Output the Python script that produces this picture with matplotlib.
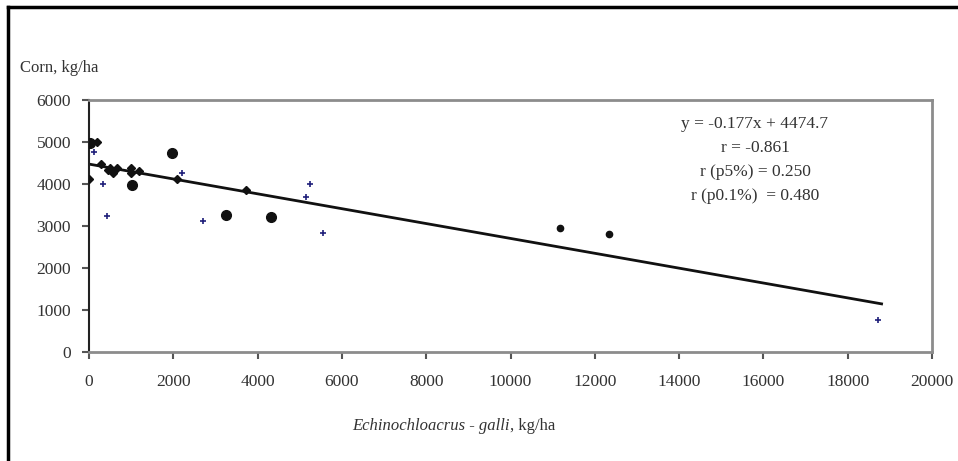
import numpy as np
import matplotlib.pyplot as plt
from matplotlib.lines import Line2D

# weed biomass (x) vs corn yield (y)
big_x = [30, 1010, 1970, 3250, 4310]
big_y = [4970, 3976, 4746, 3254, 3207]
mid_x = [11170, 12340]
mid_y = [2945, 2810]
dia_x = [200, 285, 450, 500, 560, 670, 1000, 1000, 1190, 10, 2080, 3717]
dia_y = [5000, 4485, 4330, 4374, 4270, 4390, 4380, 4270, 4300, 4110, 4110, 3857]
plus_x = [126, 325, 427, 2198, 2711, 5147, 5250, 5550, 18723]
plus_y = [4760, 4010, 3230, 4262, 3127, 3698, 4000, 2826, 762]

slope = -0.177
intercept = 4474.7
eq_lines = ["y = -0.177x + 4474.7", "r = -0.861", "r (p5%) = 0.250", "r (p0.1%)  = 0.480"]

plt.rcParams['font.family'] = ['Liberation Serif', 'DejaVu Serif']
txt = '#333333'

fig = plt.figure(figsize=(9.58, 4.61), dpi=100)
ax = fig.add_axes([0.0929, 0.2364, 0.88, 0.5466])

ax.plot(big_x, big_y, 'o', color='#111111', ms=7, zorder=3)
ax.plot(mid_x, mid_y, 'o', color='#111111', ms=4.5, zorder=3)
ax.plot(dia_x, dia_y, 'D', color='#111111', ms=4, zorder=3)
ax.plot(plus_x, plus_y, '+', color='#1f1f7a', ms=4, mew=1.2, zorder=3)

all_x = big_x + mid_x + dia_x + plus_x
xl = np.array([0, max(all_x) + 80])
ax.plot(xl, slope * xl + intercept, color='#111111', lw=2, zorder=2)

ax.set_xlim(0, 20000)
ax.set_ylim(0, 6000)
ax.set_xticks(np.arange(0, 20001, 2000))
ax.set_yticks(np.arange(0, 6001, 1000))
ax.tick_params(axis='both', labelsize=12.5, colors='#555555', labelcolor=txt, length=5, width=1.5)
ax.tick_params(axis='x', pad=11)
ax.tick_params(axis='y', pad=8)

for s in ['top', 'right', 'bottom']:
    ax.spines[s].set_color('#8c8c8c')
    ax.spines[s].set_linewidth(2)
ax.spines['left'].set_color('#222222')
ax.spines['left'].set_linewidth(1.5)

for i, t in enumerate(eq_lines):
    ax.text(0.79, 0.905 - i * 0.095, t, transform=ax.transAxes, ha='center',
            va='center', fontsize=12.5, color=txt)

fig.text(0.021, 0.852, "Corn, kg/ha", fontsize=12, color=txt, va='center')
fig.text(0.532, 0.077, "Echinochloacrus - galli", fontsize=12, color=txt,
         style='italic', ha='right', va='center')
fig.text(0.532, 0.077, ", kg/ha", fontsize=12, color=txt, ha='left', va='center')

# outer frame (top and left edges only, the rest is cropped off)
fig.add_artist(Line2D([0.0085, 0.0085], [0, 0.985], color='black', lw=2.5, transform=fig.transFigure))
fig.add_artist(Line2D([0.0085, 1.0], [0.985, 0.985], color='black', lw=2.5, transform=fig.transFigure))

fig.savefig('out.png', dpi=100)
